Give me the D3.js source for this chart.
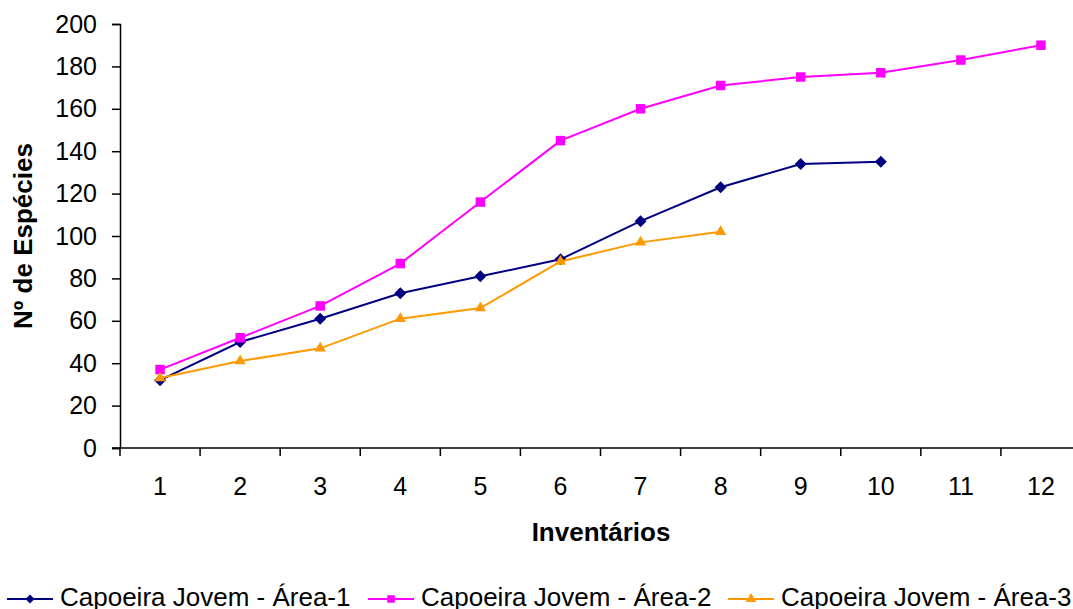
<!DOCTYPE html>
<html>
<head>
<meta charset="utf-8">
<script src="https://cdn.jsdelivr.net/npm/d3@7"></script>
<style>
  html, body { margin: 0; padding: 0; background: #fff; }
  svg { display: block; font-family: "Liberation Sans", Arial, sans-serif; }
</style>
</head>
<body>
<svg id="chart" width="1073" height="609"></svg>
<script>
// Species accumulation per inventory
const inventories = [1, 2, 3, 4, 5, 6, 7, 8, 9, 10, 11, 12];
const area1 = [32, 50, 61, 73, 81, 89, 107, 123, 134, 135];
const area2 = [37, 52, 67, 87, 116, 145, 160, 171, 175, 177, 183, 190];
const area3 = [33, 41, 47, 61, 66, 88, 97, 102];
const yTicks = [0, 20, 40, 60, 80, 100, 120, 140, 160, 180, 200];
const seriesNames = ["Capoeira Jovem - Área-1", "Capoeira Jovem - Área-2", "Capoeira Jovem - Área-3"];

const series = [
  { name: seriesNames[0], values: area1, color: "#000080", symbol: d3.symbolSquare, size: 72, rotate: 45, legendSize: 40 },
  { name: seriesNames[1], values: area2, color: "#FF00FF", symbol: d3.symbolSquare, size: 90, rotate: 0, legendSize: 56 },
  { name: seriesNames[2], values: area3, color: "#FF9900", symbol: d3.symbolTriangle, size: 55, rotate: 0, legendSize: 48 }
];

const svg = d3.select("#chart");
const plotLeft = 120, plotRight = 1081, plotTop = 24, plotBottom = 448;

const x = d3.scaleBand().domain(inventories).range([plotLeft, plotRight]);
const y = d3.scaleLinear().domain([0, 200]).range([plotBottom, plotTop]);

// Y axis
const yAxis = svg.append("g")
  .attr("transform", `translate(${plotLeft},0)`)
  .call(d3.axisLeft(y).tickValues(yTicks).tickSize(8).tickPadding(15));
yAxis.select(".domain").attr("stroke", "#000").attr("stroke-width", 1.5);
yAxis.selectAll(".tick line").attr("stroke", "#000").attr("stroke-width", 1.5);
yAxis.selectAll(".tick text").attr("font-size", 25).attr("fill", "#000")
  .attr("font-family", "Liberation Sans, Arial, sans-serif");

// X axis: ticks at category boundaries, labels at centres
const xAxis = svg.append("g").attr("transform", `translate(0,${plotBottom})`);
xAxis.append("line")
  .attr("x1", plotLeft - 8).attr("x2", plotRight)
  .attr("stroke", "#000").attr("stroke-width", 1.5);
const bounds = inventories.map(d => x(d)).concat([plotRight]);
xAxis.selectAll("line.tk").data(bounds).join("line")
  .attr("class", "tk")
  .attr("x1", d => d).attr("x2", d => d)
  .attr("y1", 0).attr("y2", 8)
  .attr("stroke", "#000").attr("stroke-width", 1.5);
xAxis.selectAll("text").data(inventories).join("text")
  .attr("x", d => x(d) + x.bandwidth() / 2)
  .attr("y", 47)
  .attr("text-anchor", "middle")
  .attr("font-size", 25)
  .text(d => d);

// Axis titles
svg.append("text")
  .attr("x", 601).attr("y", 541)
  .attr("text-anchor", "middle")
  .attr("font-size", 26).attr("font-weight", "bold")
  .text("Inventários");
svg.append("text")
  .attr("transform", "translate(32,236) rotate(-90)")
  .attr("text-anchor", "middle")
  .attr("font-size", 26).attr("font-weight", "bold")
  .text("Nº de Espécies");

// Lines and markers
const line = d3.line()
  .x((d, i) => x(inventories[i]) + x.bandwidth() / 2)
  .y(d => y(d));

series.forEach(s => {
  svg.append("path")
    .datum(s.values)
    .attr("d", line)
    .attr("fill", "none")
    .attr("stroke", s.color)
    .attr("stroke-width", 2);
  svg.append("g").selectAll("path").data(s.values).join("path")
    .attr("transform", (d, i) => `translate(${x(inventories[i]) + x.bandwidth() / 2},${y(d)}) rotate(${s.rotate})`)
    .attr("d", d3.symbol().type(s.symbol).size(s.size))
    .attr("fill", s.color);
});

// Legend
const legendY = 599;
const legendX = [7, 368, 728];
series.forEach((s, i) => {
  const g = svg.append("g").attr("transform", `translate(${legendX[i]},${legendY})`);
  g.append("line").attr("x1", 0).attr("x2", 46)
    .attr("stroke", s.color).attr("stroke-width", 2);
  g.append("path")
    .attr("transform", `translate(23,0) rotate(${s.rotate})`)
    .attr("d", d3.symbol().type(s.symbol).size(s.legendSize))
    .attr("fill", s.color);
  g.append("text")
    .attr("x", 53).attr("y", 7)
    .attr("font-size", 26)
    .text(s.name);
});
</script>
</body>
</html>
